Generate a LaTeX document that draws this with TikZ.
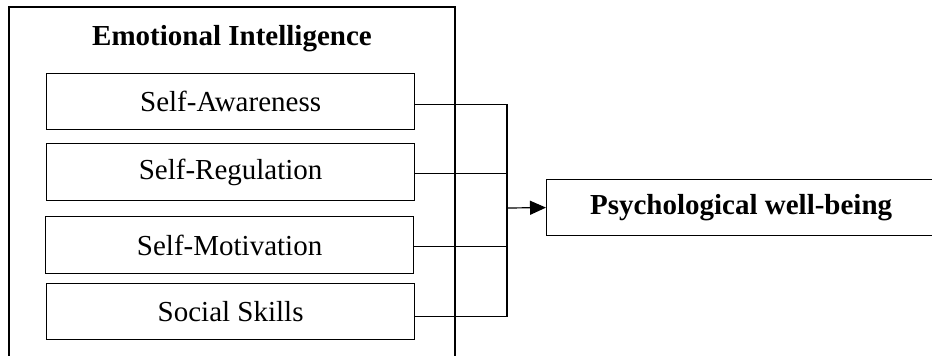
\documentclass[tikz,border=0pt]{standalone}
\usepackage{fontspec}
\setmainfont{Liberation Serif}
\usetikzlibrary{arrows.meta,calc}
\begin{document}
\begin{tikzpicture}[x=1pt,y=-1pt,
  line width=1.2pt,
  every node/.style={font=\fontsize{29}{34}\selectfont},
  subbox/.style={draw, minimum width=368pt, minimum height=56pt, inner sep=0pt, anchor=north west},
  arr/.style={-{Triangle[length=16pt,width=14pt]}}]
\useasboundingbox (0,0) rectangle (932,356);
% outer frame (open at bottom, continues past the page)
\draw (9,356) -- (9,7) -- (455,7) -- (455,356);
\node[font=\fontsize{29}{34}\selectfont\bfseries] (title) at (232,39) {Emotional Intelligence};
\node[subbox] (b1) at (46,73) {Self-Awareness};
\node[subbox, minimum height=57pt] (b2) at (46,143) {Self-Regulation};
\node[subbox, minimum height=57pt] (b3) at (45,216) {Self-Motivation};
\node[subbox] (b4) at (46,283) {Social Skills};
\node[draw, minimum width=389pt, minimum height=56pt, inner sep=0pt, anchor=north west,
      font=\fontsize{29}{34}\selectfont\bfseries] (pw) at (546,179) {Psychological well-being};
\coordinate (bus) at (507,208);
\draw ([yshift=-3pt]b1.east) -| (bus);
\draw ([yshift=-1.5pt]b2.east) -| (bus);
\draw ([yshift=-1.5pt]b3.east) -| (bus);
\draw ([yshift=-5pt]b4.east) -| (bus);
\draw[arr] (bus) -- (pw.west);
\end{tikzpicture}
\end{document}
